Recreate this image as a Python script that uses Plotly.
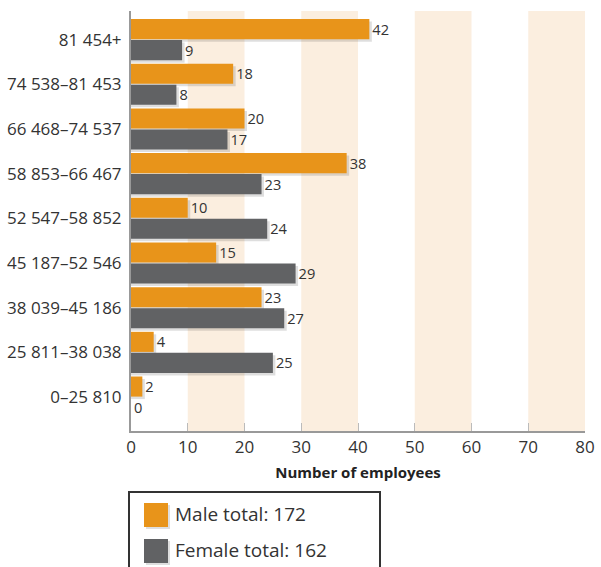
import plotly.graph_objects as go

categories = ["0–25 810", "25 811–38 038", "38 039–45 186", "45 187–52 546",
              "52 547–58 852", "58 853–66 467", "66 468–74 537", "74 538–81 453", "81 454+"]
male = [2, 4, 23, 15, 10, 38, 20, 18, 42]
female = [0, 25, 27, 29, 24, 23, 17, 8, 9]
x_ticks = [0, 10, 20, 30, 40, 50, 60, 70, 80]

ORANGE = "#E8941A"
GRAY = "#616264"
BAND = "#FBEEDF"
TXT = "#333333"
FONT = "Open Sans"

W, H = 601, 567
ML, MR, MT, MB = 131, 16, 11, 136
PW, PH = W - ML - MR, H - MT - MB
XMAX = 80
YR = [-0.76, 8.64]

def px_x(p):
    return (p - ML) / PW

def px_y(p):
    return (H - MB - p) / PH

ux = 2.5 * XMAX / PW          # ~2.5 px in x data units
uy = 2.5 * (YR[1] - YR[0]) / PH  # ~2.5 px in category units

BW = 0.45
M_OFF = 0.01
F_OFF = -0.46

fig = go.Figure()

# soft shadows
for vals, off in ((male, M_OFF), (female, F_OFF)):
    fig.add_trace(go.Bar(
        y=categories, x=[v + ux if v > 0 else 0 for v in vals], orientation="h",
        width=BW, offset=off - uy, marker=dict(color="rgba(0,0,0,0.13)", line=dict(width=0)),
        hoverinfo="skip", showlegend=False))

fig.add_trace(go.Bar(
    y=categories, x=male, orientation="h", name=f"Male total: {sum(male)}",
    width=BW, offset=M_OFF, marker=dict(color=ORANGE, line=dict(width=0)),
    text=[str(v) for v in male], textposition="outside",
    textfont=dict(size=16, color=TXT, family=FONT), cliponaxis=False))
fig.add_trace(go.Bar(
    y=categories, x=female, orientation="h", name=f"Female total: {sum(female)}",
    width=BW, offset=F_OFF, marker=dict(color=GRAY, line=dict(width=0)),
    text=[str(v) for v in female], textposition="outside",
    textfont=dict(size=16, color=TXT, family=FONT), cliponaxis=False))

shapes = []
for a, b in zip(x_ticks[1::2], x_ticks[2::2]):
    shapes.append(dict(type="rect", xref="x", yref="paper", x0=a, x1=b, y0=0, y1=1,
                       fillcolor=BAND, line=dict(width=0), layer="below"))

# custom legend
shapes.append(dict(type="rect", xref="paper", yref="paper",
                   x0=px_x(129), x1=px_x(380), y0=px_y(492), y1=px_y(600),
                   line=dict(color="#333333", width=2), fillcolor="white"))
annotations = []
for (top, color, name) in ((503, ORANGE, f"Male total: {sum(male)}"),
                           (539, GRAY, f"Female total: {sum(female)}")):
    shapes.append(dict(type="rect", xref="paper", yref="paper",
                       x0=px_x(146), x1=px_x(170), y0=px_y(top + 26), y1=px_y(top + 2),
                       fillcolor="rgba(0,0,0,0.13)", line=dict(width=0)))
    shapes.append(dict(type="rect", xref="paper", yref="paper",
                       x0=px_x(144), x1=px_x(168), y0=px_y(top + 24), y1=px_y(top),
                       fillcolor=color, line=dict(width=0)))
    annotations.append(dict(text=name, xref="paper", yref="paper",
                            x=px_x(173), y=px_y(top + 11), xanchor="left", yanchor="middle",
                            showarrow=False, font=dict(size=19, color=TXT, family=FONT)))

fig.update_layout(
    width=W, height=H, margin=dict(l=ML, r=MR, t=MT, b=MB, pad=0, autoexpand=False),
    paper_bgcolor="white", plot_bgcolor="white",
    barmode="overlay", showlegend=False,
    shapes=shapes, annotations=annotations,
    font=dict(family=FONT, color=TXT),
    xaxis=dict(range=[0, XMAX], tickvals=x_ticks, ticks="inside", ticklen=8,
               tickcolor="#BBBBBB", tickwidth=1, showgrid=False, zeroline=False,
               showline=True, linecolor="#999999", linewidth=2, automargin=False,
               tickfont=dict(size=17, color=TXT, family=FONT),
               title=dict(text="<b>Number of employees</b>", standoff=10,
                          font=dict(size=15, color="#222222", family=FONT))),
    yaxis=dict(type="category", categoryorder="array", categoryarray=categories,
               range=YR, showgrid=False, zeroline=False, ticks="", automargin=False,
               showline=True, linecolor="#999999", linewidth=2,
               ticklabelstandoff=4,
               tickfont=dict(size=17, color=TXT, family=FONT)),
)

fig.write_html("out.html")
